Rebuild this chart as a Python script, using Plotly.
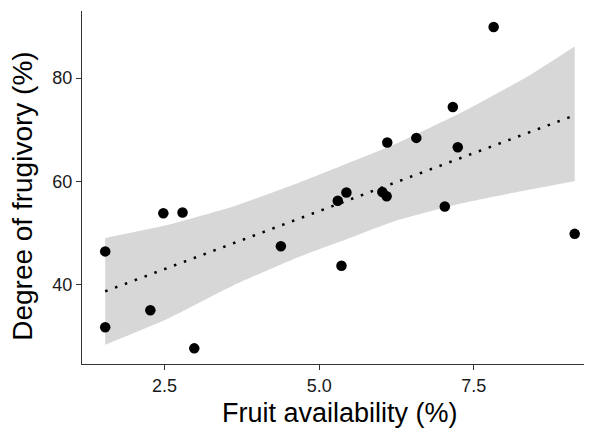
import numpy as np
import plotly.graph_objects as go

# Data
fruit_availability = [1.54, 1.54, 2.27, 2.48, 2.79, 2.98, 4.38, 5.30, 5.44, 5.36,
                      6.02, 6.09, 6.10, 6.57, 7.03, 7.16, 7.24, 7.82, 9.13]
frugivory = [46.4, 31.7, 35.0, 53.8, 53.95, 27.6, 47.4, 56.2, 57.8, 43.6,
             57.9, 57.1, 67.5, 68.4, 55.1, 74.4, 66.6, 89.9, 49.8]

# Confidence band edges
band_x = [1.54, 2.54, 3.61, 4.69, 5.34, 6.25, 7.33, 8.41, 9.13]
band_upper = [49.0, 51.5, 55.1, 59.8, 62.9, 67.3, 73.5, 80.6, 86.1]
band_lower = [28.3, 33.3, 39.8, 45.4, 48.3, 52.4, 55.8, 58.4, 60.0]

x_tick_vals = [2.5, 5.0, 7.5]
x_tick_text = ["2.5", "5.0", "7.5"]
y_tick_vals = [40, 60, 80]
y_tick_text = ["40", "60", "80"]

# Linear fit of the points
x = np.array(fruit_availability)
y = np.array(frugivory)
slope, intercept = np.polyfit(x, y, 1)
fit_x = [x.min(), x.max()]
fit_y = [intercept + slope * v for v in fit_x]

FONT = "Liberation Sans, Arial, sans-serif"
BAND = "rgb(215,215,215)"

fig = go.Figure()
fig.add_trace(go.Scatter(
    x=band_x, y=band_lower, mode="lines",
    line=dict(width=0, color=BAND, shape="spline", smoothing=0.5),
    hoverinfo="skip", showlegend=False))
fig.add_trace(go.Scatter(
    x=band_x, y=band_upper, mode="lines", fill="tonexty", fillcolor=BAND,
    line=dict(width=0, color=BAND, shape="spline", smoothing=0.5),
    hoverinfo="skip", showlegend=False))
fig.add_trace(go.Scatter(
    x=fit_x, y=fit_y, mode="lines",
    line=dict(color="black", width=2.5, dash="2.5px,8px"), showlegend=False))
fig.add_trace(go.Scatter(
    x=fruit_availability, y=frugivory, mode="markers",
    marker=dict(color="black", size=10.5), showlegend=False))

axis_common = dict(
    showgrid=False, zeroline=False, showline=True, linecolor="#333333", linewidth=1.2,
    ticks="outside", ticklen=5, tickwidth=1.2, tickcolor="#333333", automargin=False,
    tickfont=dict(family=FONT, size=18, color="#1a1a1a"),
)
# The page body has an 8px margin, so the figure is sized to fit the 592x428 window
fig.update_layout(
    width=584, height=420,
    margin=dict(l=74, r=0, t=3, b=64),
    paper_bgcolor="white", plot_bgcolor="white",
    xaxis=dict(range=[1.165, 9.41], tickvals=x_tick_vals, ticktext=x_tick_text, **axis_common),
    yaxis=dict(range=[24.57, 93.0], tickvals=y_tick_vals, ticktext=y_tick_text, **axis_common),
    annotations=[
        dict(text="Fruit availability (%)", xref="paper", yref="paper", x=0.506, y=-0.139,
             xanchor="center", yanchor="middle", showarrow=False,
             font=dict(family=FONT, size=27, color="black")),
        dict(text="Degree of frugivory (%)", xref="paper", yref="paper", x=-0.116, y=0.476,
             xanchor="center", yanchor="middle", showarrow=False, textangle=-90,
             font=dict(family=FONT, size=28, color="black")),
    ],
)
fig.write_html("out.html")
